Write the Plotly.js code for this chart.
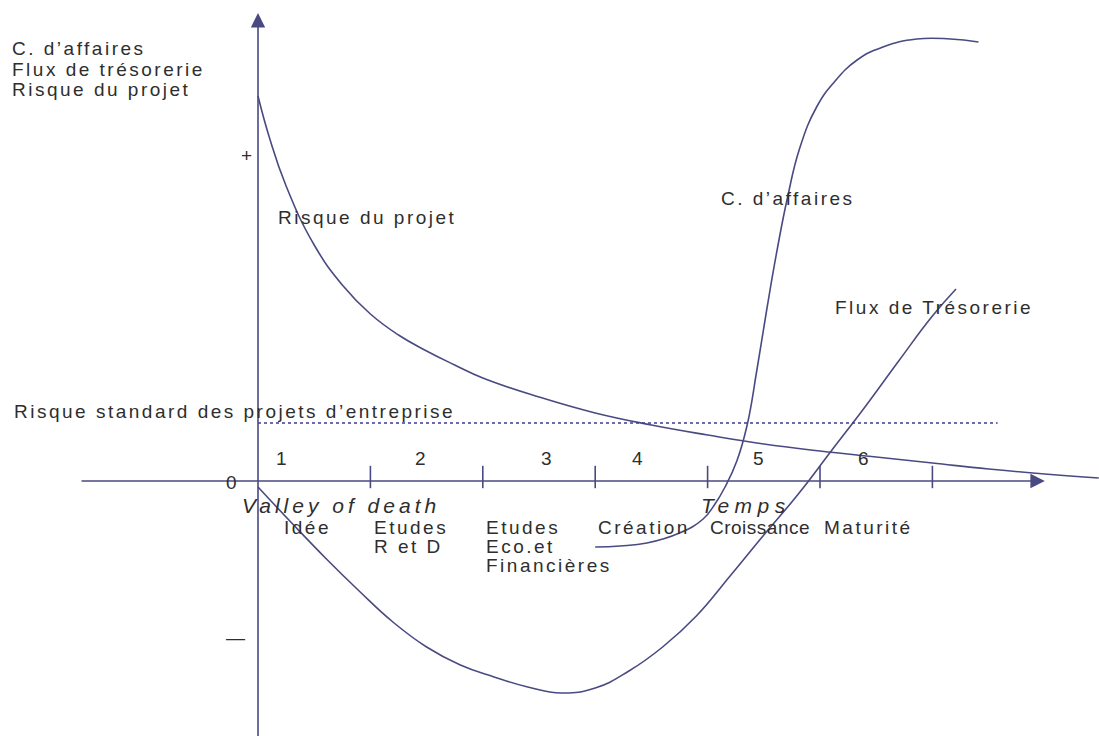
<!DOCTYPE html>
<html>
<head>
<meta charset="utf-8">
<script src="https://cdn.plot.ly/plotly-3.0.1.min.js"></script>
<style>
  html, body { margin: 0; padding: 0; background: #ffffff; }
  #chart { width: 1099px; height: 736px; }
  .annotation-text { letter-spacing: 2.5px; }
</style>
</head>
<body>
<div id="chart"></div>
<script>
// ---------- data (x: time / phases, y: relative level) ----------
const risqueX = [0.00, 0.10, 0.25, 0.50, 0.75, 1.00, 1.25, 1.50, 1.75, 2.00, 2.50, 3.00, 3.50, 4.00, 4.50, 5.00, 5.50, 6.00, 6.50, 7.00, 7.48];
const risqueY = [3.85, 3.44, 2.95, 2.36, 1.96, 1.67, 1.46, 1.30, 1.16, 1.03, 0.84, 0.68, 0.56, 0.46, 0.37, 0.30, 0.24, 0.18, 0.12, 0.07, 0.03];

const caX = [3.00, 3.22, 3.46, 3.75, 3.96, 4.06, 4.16, 4.26, 4.35, 4.44, 4.53, 4.62, 4.71, 4.82, 4.97, 5.12, 5.33, 5.56, 5.86, 6.16, 6.41];
const caY = [-0.66, -0.65, -0.62, -0.52, -0.38, -0.24, -0.05, 0.20, 0.55, 1.12, 1.74, 2.32, 2.83, 3.33, 3.74, 3.98, 4.21, 4.34, 4.42, 4.42, 4.39];

const fluxX = [0.00, 0.30, 0.60, 0.90, 1.20, 1.50, 1.80, 2.10, 2.40, 2.70, 3.00, 3.30, 3.60, 3.90, 4.20, 4.50, 4.80, 5.10, 5.40, 5.70, 6.00, 6.21];
const fluxY = [-0.06, -0.42, -0.77, -1.10, -1.41, -1.66, -1.84, -1.96, -2.06, -2.12, -2.07, -1.90, -1.66, -1.35, -0.95, -0.54, -0.14, 0.30, 0.74, 1.20, 1.65, 1.92];

const standardX = [0.00, 6.58];
const standardY = [0.58, 0.58];

const tickX = [1, 2, 3, 4, 5, 6];
const phaseNumbers = ['1', '2', '3', '4', '5', '6'];
const phaseNames = ['Idée', 'Etudes<br>R et D', 'Etudes<br>Eco.et<br>Financières', 'Création', 'Croissance', 'Maturité'];

// ---------- style ----------
const LINE = '#4a4a82';
const TXT = '#2e2e2e';
const FONT = 'Liberation Sans, Arial, sans-serif';

const curve = (x, y) => ({
  x: x, y: y, type: 'scatter', mode: 'lines',
  line: { color: LINE, width: 1.6, shape: 'spline', smoothing: 1.3 },
  hoverinfo: 'skip'
});

const traces = [
  curve(risqueX, risqueY),
  curve(caX, caY),
  curve(fluxX, fluxY),
  {
    x: standardX, y: standardY, type: 'scatter', mode: 'lines',
    line: { color: '#3b3b94', width: 1.4, dash: '3px,3px' }, hoverinfo: 'skip'
  },
  {
    x: tickX, y: tickX.map(() => 0.04), type: 'scatter', mode: 'markers',
    marker: { symbol: 'line-ns', size: 16, line: { color: LINE, width: 1.6 } },
    hoverinfo: 'skip'
  }
];

function label(text, x, y, opts) {
  opts = opts || {};
  return Object.assign({
    text: text, x: x, y: y, xref: 'x', yref: 'y',
    showarrow: false, xanchor: 'left', yanchor: 'middle', align: 'left',
    font: { family: FONT, size: 19, color: TXT }
  }, opts);
}

// label anchors
const phaseLabelX = [0.214, 1.014, 2.011, 3.007, 4.004, 5.018];
const phaseNumX = [0.222, 1.459, 2.580, 3.381, 4.466, 5.400];

const annotations = [];

// axis arrows
annotations.push({
  x: 7.00, y: 0, ax: -1.584, ay: 0, xref: 'x', yref: 'y', axref: 'x', ayref: 'y',
  text: '', showarrow: true, arrowhead: 2, arrowsize: 1.8, arrowwidth: 1.6, arrowcolor: LINE, standoff: 0
});
annotations.push({
  x: 0, y: 4.68, ax: 0, ay: -2.60, xref: 'x', yref: 'y', axref: 'x', ayref: 'y',
  text: '', showarrow: true, arrowhead: 2, arrowsize: 1.8, arrowwidth: 1.6, arrowcolor: LINE, standoff: 0
});

// y-axis title lines
annotations.push(label("C. d’affaires", -2.206, 4.33));
annotations.push(label("Flux de trésorerie", -2.206, 4.12));
annotations.push(label("Risque du projet", -2.206, 3.92));

// signs
const centered = { xanchor: 'center', font: { family: FONT, size: 19, color: TXT } };
annotations.push(label('+', -0.089, 3.26, centered));
annotations.push(label('—', -0.187, -1.56, centered));
annotations.push(label('0', -0.231, -0.01, centered));

// phase numbers
phaseNumbers.forEach((t, i) => annotations.push(label(t, phaseNumX[i], 0.23, { xanchor: 'center' })));

// phase names
phaseNames.forEach((t, i) => {
  t.split('<br>').forEach((ln, j) => {
    const sp = ln === 'Croissance' ? 0.5 : 2.5;
    annotations.push(label('<span style="letter-spacing:' + sp + 'px">' + ln + '</span>', phaseLabelX[i], -0.46 - 0.19 * j));
  });
});

// italic axis labels
annotations.push(label('<span style="letter-spacing:4px">Valley of death</span>', -0.160, -0.24,
  { font: { family: FONT, size: 21, color: TXT, style: 'italic' } }));
annotations.push(label('<span style="letter-spacing:5.5px">Temps</span>', 3.925, -0.24,
  { font: { family: FONT, size: 21, color: TXT, style: 'italic' } }));

// curve labels
annotations.push(label('Risque du projet', 0.160, 2.64));
annotations.push(label("C. d’affaires", 4.101, 2.83));
annotations.push(label('Flux de Trésorerie', 5.116, 1.74));
annotations.push(label("Risque standard des projets d’entreprise", -2.189, 0.70));

const layout = {
  width: 1099, height: 736,
  margin: { l: 0, r: 0, t: 0, b: 0, pad: 0 },
  paper_bgcolor: '#ffffff', plot_bgcolor: '#ffffff',
  showlegend: false,
  xaxis: { range: [-2.2954, 7.4822], visible: false, fixedrange: true },
  yaxis: { range: [-2.55, 4.81], visible: false, fixedrange: true },
  annotations: annotations,
  font: { family: FONT, color: TXT }
};

Plotly.newPlot('chart', traces, layout, { staticPlot: true, displayModeBar: false });
</script>
</body>
</html>
